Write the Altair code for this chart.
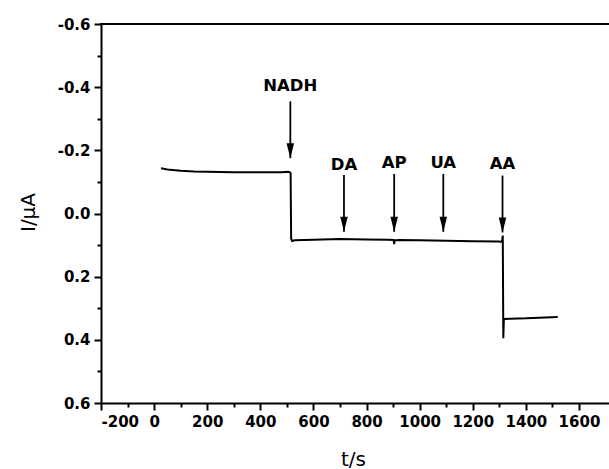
import altair as alt
import pandas as pd

# ---- data ----
t_s = [26, 50, 100, 150, 200, 300, 400, 480, 505, 510, 514, 516, 520, 530, 600, 700,
       800, 880, 902, 904, 906, 920, 1000, 1100, 1200, 1300, 1310, 1313, 1315, 1317,
       1320, 1340, 1400, 1450, 1520]
current_uA = [-0.143, -0.139, -0.135, -0.133, -0.132, -0.131, -0.131, -0.131, -0.132,
              -0.131, -0.128, 0.080, 0.087, 0.085, 0.083, 0.081, 0.082, 0.083, 0.084,
              0.097, 0.085, 0.084, 0.085, 0.086, 0.088, 0.089, 0.090, 0.070, 0.395,
              0.336, 0.334, 0.333, 0.332, 0.330, 0.328]

ann_labels = ["NADH", "DA", "AP", "UA", "AA"]
ann_t = [513, 715, 904, 1089, 1312]
ann_label_I = [-0.405, -0.155, -0.160, -0.160, -0.157]
ann_arrow_start = [-0.355, -0.122, -0.125, -0.125, -0.120]
ann_arrow_end = [-0.175, 0.058, 0.058, 0.058, 0.060]

x_major = [-200, 0, 200, 400, 600, 800, 1000, 1200, 1400, 1600]
x_minor = [-100, 100, 300, 500, 700, 900, 1100, 1300, 1500]
y_major = [-0.6, -0.4, -0.2, 0.0, 0.2, 0.4, 0.6]
y_minor = [-0.5, -0.3, -0.1, 0.1, 0.3, 0.5]

X_DOMAIN = [-200, 1713]
Y_DOMAIN = [-0.6, 0.6]
W, H = 508, 379

trace = pd.DataFrame({"t": t_s, "I": current_uA, "idx": range(len(t_s))})
ann = pd.DataFrame({"label": ann_labels, "t": ann_t, "ly": ann_label_I,
                    "a1": ann_arrow_start, "a2": ann_arrow_end})

xs = alt.Scale(domain=X_DOMAIN, nice=False, zero=False)
ys = alt.Scale(domain=Y_DOMAIN, nice=False, zero=False, reverse=True)

FONT = "DejaVu Sans"

x_axis = alt.Axis(values=x_major, orient="bottom", title="t/s", labelFont=FONT,
                  labelFontWeight="bold", labelFontSize=15, labelColor="black",
                  labelPadding=4, tickSize=7, tickWidth=2, tickColor="black",
                  domainWidth=2, domainColor="black", grid=False, format="d",
                  labelExpr="replace(format(datum.value, 'd'), '\u2212', '-')",
                  titleFont=FONT, titleFontWeight="normal", titleFontSize=20,
                  titleColor="black", titleX=252, titleY=56, titleBaseline="middle",
                  titleAlign="center")
y_axis = alt.Axis(values=y_major, orient="left", title="I/\u03bcA", labelFont=FONT,
                  labelFontWeight="bold", labelFontSize=15, labelColor="black",
                  labelPadding=4, tickSize=7, tickWidth=2, tickColor="black",
                  domainWidth=2, domainColor="black", grid=False,
                  labelExpr="replace(format(datum.value, '.1f'), '\u2212', '-')",
                  titleFont=FONT, titleFontWeight="normal", titleFontSize=20,
                  titleColor="black", titleX=-73, titleY=188, titleBaseline="middle",
                  titleAlign="center", titleAngle=270)

line = alt.Chart(trace).mark_line(color="black", strokeWidth=2).encode(
    x=alt.X("t:Q", scale=xs, axis=x_axis),
    y=alt.Y("I:Q", scale=ys, axis=y_axis),
    order="idx:Q",
)

minor_x = alt.Chart(trace).mark_point(opacity=0).encode(
    x=alt.X("t:Q", scale=xs, axis=alt.Axis(values=x_minor, orient="bottom", labels=False,
                                            domain=False, tickSize=4, tickWidth=2,
                                            tickColor="black", grid=False, title=None)),
    y=alt.Y("I:Q", scale=ys, axis=alt.Axis(values=y_minor, orient="left", labels=False,
                                            domain=False, tickSize=4, tickWidth=2,
                                            tickColor="black", grid=False, title=None)),
)

top_border = alt.Chart(pd.DataFrame({"yb": [Y_DOMAIN[0]]})).mark_rule(
    color="black", strokeWidth=2).encode(
    y=alt.Y("yb:Q", scale=ys, axis=None), x=alt.value(-1), x2=alt.value(W))

arrows = alt.Chart(ann).mark_rule(color="black", strokeWidth=1.8).encode(
    x=alt.X("t:Q", scale=xs, axis=None),
    y=alt.Y("a1:Q", scale=ys, axis=None),
    y2="a2:Q",
)
heads = alt.Chart(ann).mark_point(
    shape="M-1,-4 L1,-4 L0,0 Z", filled=True, color="black", opacity=1,
    size=56, strokeWidth=0).encode(
    x=alt.X("t:Q", scale=xs, axis=None),
    y=alt.Y("a2:Q", scale=ys, axis=None),
)
labels = alt.Chart(ann).mark_text(font=FONT, fontWeight="bold", fontSize=16.5,
                                  color="black", baseline="middle", align="center").encode(
    x=alt.X("t:Q", scale=xs, axis=None),
    y=alt.Y("ly:Q", scale=ys, axis=None),
    text="label:N",
)

chart = alt.layer(line, minor_x, top_border, arrows, heads, labels).resolve_axis(
    x="independent", y="independent"
).properties(
    width=W, height=H, autosize=alt.AutoSizeParams(type="none"),
    padding={"left": 101, "top": 24, "right": 0, "bottom": 66},
    background="white",
).configure_view(stroke=None)

chart.save("out.html", embed_options={"renderer": "svg", "actions": False})
